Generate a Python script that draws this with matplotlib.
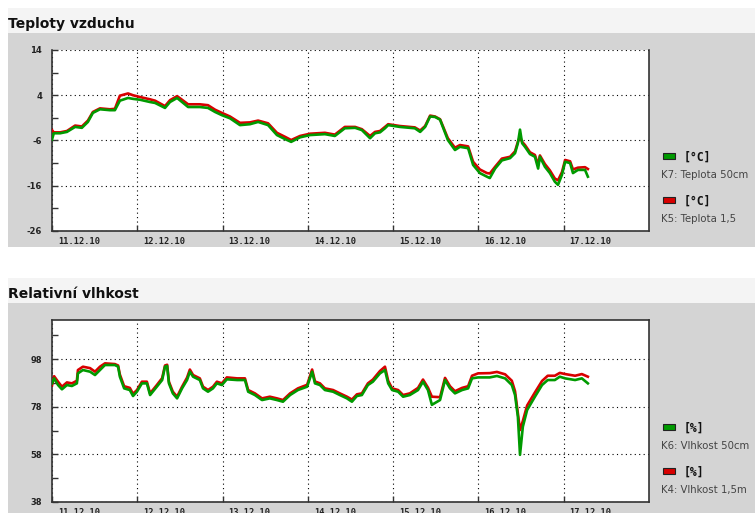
import matplotlib
matplotlib.use("Agg")
import matplotlib.pyplot as plt
import matplotlib.transforms as mtransforms
from matplotlib.patches import Rectangle

# hours since 11.12.10 00:00
temp_hours = [0, 0.5, 2.3, 4.2, 6.5, 8.4, 10.1, 11.5, 13.5, 16.3, 17.7, 19.1, 21.4, 22.8,
              24.8, 27.6, 29.0, 31.8, 33.2, 35.2, 36.6, 38.3, 41.6, 43.9, 45.9, 47.8,
              50.1, 52.9, 55.7, 58.0, 60.8, 63.3, 65.6, 67.3, 69.8, 72.6, 76.8, 79.6,
              82.4, 85.3, 87.2, 89.5, 90.9, 92.3, 93.7, 94.6, 97.9, 102.1, 103.6, 105.0,
              106.4, 107.8, 109.2, 111.4, 113.4, 114.8, 117.1, 118.5, 120.4, 122.4, 123.2,
              124.7, 126.6, 128.9, 130.3, 131.1, 131.7, 132.3, 133.1, 134.5, 135.9, 136.8,
              137.3, 138.7, 140.1, 141.5, 142.4, 143.5, 144.4, 145.8, 146.6, 148.0, 150.0,
              150.8]
temp_k7 = [-5.8, -4.4, -4.4, -4.1, -3.0, -3.2, -1.9, 0.1, 0.9, 0.7, 0.7, 2.8, 3.4, 3.2,
           3.0, 2.5, 2.3, 1.2, 2.5, 3.4, 2.5, 1.4, 1.4, 1.2, 0.3, -0.4,
           -1.1, -2.6, -2.4, -1.9, -2.6, -4.8, -5.7, -6.3, -5.3, -4.8, -4.6, -5.0,
           -3.3, -3.2, -3.7, -5.5, -4.4, -4.2, -3.3, -2.6, -3.0, -3.3, -4.1, -3.0,
           -0.7, -0.8, -1.4, -5.9, -8.1, -7.4, -7.7, -11.4, -13.2, -14.0, -14.3,
           -12.2, -10.4, -9.9, -8.8, -6.6, -3.6, -6.6, -7.4, -9.0, -9.6, -12.2,
           -9.6, -11.8, -13.2, -15.1, -15.8, -13.6, -10.7, -11.0, -13.2, -12.5, -12.5,
           -14.0]
temp_k5 = [-3.7, -4.2, -4.2, -3.9, -2.7, -2.9, -1.6, 0.3, 1.1, 0.9, 1.0, 3.9, 4.4, 4.0,
           3.6, 3.1, 2.8, 1.6, 2.9, 3.8, 3.0, 2.0, 2.0, 1.8, 0.8, 0.1,
           -0.7, -2.1, -2.0, -1.6, -2.2, -4.3, -5.2, -5.9, -5.0, -4.5, -4.3, -4.7,
           -3.0, -3.0, -3.5, -5.0, -4.1, -3.9, -3.0, -2.4, -2.8, -3.1, -3.8, -2.8,
           -0.5, -0.7, -1.3, -5.5, -7.6, -7.0, -7.3, -10.7, -12.4, -13.2, -13.3,
           -11.8, -10.0, -9.6, -8.4, -6.3, -5.2, -6.3, -7.0, -8.6, -9.2, -11.4,
           -9.3, -11.2, -12.6, -14.4, -14.8, -13.0, -10.3, -10.6, -12.4, -12.0, -11.9,
           -12.3]

hum_hours = [0, 0.6, 1.7, 2.8, 4.2, 5.6, 7.0, 7.3, 8.7, 10.7, 12.1, 13.5, 14.9, 17.7,
             18.6, 19.1, 20.3, 21.9, 22.8, 23.9, 25.3, 26.7, 27.6, 29.5, 31.0, 31.8,
             32.4, 32.9, 34.0, 35.2, 36.6, 38.0, 38.8, 39.7, 41.6, 42.5, 43.9, 45.3,
             46.4, 47.8, 49.2, 52.1, 54.3, 55.2, 57.1, 59.1, 61.3, 63.3, 65.0, 67.0,
             69.2, 71.8, 73.2, 74.0, 75.4, 76.8, 79.1, 81.0, 83.0, 84.4, 85.8, 87.2,
             88.9, 90.3, 92.3, 93.7, 94.6, 95.7, 97.4, 98.8, 100.7, 103.0, 104.4, 105.8,
             106.9, 109.2, 110.6, 112.0, 113.4, 115.4, 117.1, 118.2, 119.9, 123.2, 125.2,
             127.5, 129.4, 130.3, 131.1, 131.7, 132.5, 133.7, 135.9, 137.9, 139.5, 141.5,
             142.9, 144.4, 147.2, 149.1, 150.8]
hum_k6 = [87.8, 89.9, 87.1, 85.3, 87.1, 86.7, 87.8, 92.0, 93.4, 92.7, 91.3, 93.4, 95.5, 95.5,
          94.8, 90.6, 85.7, 85.0, 82.5, 84.3, 87.8, 87.8, 82.9, 86.4, 89.2, 94.8,
          95.1, 87.8, 83.6, 81.5, 85.7, 89.2, 92.7, 90.6, 89.2, 85.7, 84.3, 85.7,
          87.8, 87.1, 89.5, 89.2, 89.2, 84.3, 82.9, 80.8, 81.5, 80.8, 80.1, 82.9,
          85.0, 86.4, 92.7, 87.8, 87.1, 85.0, 84.3, 82.9, 81.5, 80.1, 82.5, 82.9,
          87.1, 88.5, 92.0, 93.4, 87.8, 85.0, 84.3, 82.2, 82.9, 85.0, 88.5, 85.0,
          78.8, 80.8, 89.2, 85.7, 83.6, 85.0, 85.7, 89.9, 90.3, 90.3, 90.9,
          89.9, 87.1, 82.9, 73.8, 57.8, 69.6, 76.6, 82.2, 87.1, 89.2, 89.2,
          90.6, 89.9, 89.2, 89.9, 87.8]
hum_k4 = [87.0, 90.8, 88.5, 86.4, 88.2, 87.8, 88.9, 93.4, 94.8, 94.2, 92.7, 94.8, 96.2, 95.9,
          95.3, 91.5, 86.6, 85.9, 83.4, 85.0, 88.5, 88.5, 83.6, 87.1, 90.0, 95.3,
          95.6, 88.5, 84.3, 82.2, 86.4, 90.2, 93.6, 91.3, 89.9, 86.4, 85.0, 86.4,
          88.5, 87.8, 90.3, 89.9, 89.9, 85.0, 83.6, 81.5, 82.2, 81.5, 80.8, 83.6,
          85.7, 87.2, 93.6, 88.6, 87.8, 85.7, 85.0, 83.6, 82.2, 81.0, 83.2, 83.6,
          87.8, 89.4, 93.0, 94.8, 88.9, 85.7, 85.0, 82.9, 83.6, 85.9, 89.4, 86.0,
          82.2, 82.0, 90.1, 86.6, 84.5, 85.9, 86.6, 91.0, 92.0, 92.1, 92.6,
          91.6, 88.9, 84.5, 75.2, 68.2, 72.0, 78.5, 84.0, 88.8, 91.0, 91.0,
          92.2, 91.7, 91.0, 91.7, 90.6]

day_ticks = [0, 24, 48, 72, 96, 120, 144]
day_labels = ["11.12.10", "12.12.10", "13.12.10", "14.12.10", "15.12.10", "16.12.10", "17.12.10"]

GREEN = "#009a00"
RED = "#d80000"
PANEL = "#d4d4d4"
BAND = "#f4f4f4"

W, H = 755, 513
fig = plt.figure(figsize=(W / 100, H / 100), dpi=100)
fig.patch.set_facecolor("white")


def px_rect(x0, y0, x1, y1, z=0, **kw):
    """Rectangle in figure pixel coords (origin top-left)."""
    fig.patches.append(Rectangle((x0 / W, 1 - y1 / H), (x1 - x0) / W, (y1 - y0) / H,
                                 transform=fig.transFigure, zorder=z, **kw))


def px_axes(left, top, right, bottom):
    ax = fig.add_axes([left / W, 1 - bottom / H, (right - left) / W, (bottom - top) / H])
    ax.set_zorder(2)
    return ax


def panel(ax, title, title_y, band, gray, ylim, yticks, yminor, top_spine):
    px_rect(8, band[0], W, band[1], z=-2, facecolor=BAND, linewidth=0)
    px_rect(8, gray[0], W, gray[1], z=-2, facecolor=PANEL, linewidth=0)
    fig.text(8 / W, 1 - title_y / H, title, fontsize=10, fontweight="bold",
             color="#111111", va="baseline", ha="left")

    ax.set_facecolor("white")
    ax.set_xlim(0, 168)
    ax.set_ylim(*ylim)
    ax.set_xticks(day_ticks)
    ax.set_xticklabels(day_labels, family="DejaVu Sans Mono", fontweight="bold",
                       fontsize=6.3, color="#222222")
    ax.set_yticks(yticks)
    ax.set_yticks(yminor, minor=True)
    ax.set_yticklabels([str(v) for v in yticks], fontsize=6, fontweight="bold",
                       color="#222222")
    ax.tick_params(axis="both", which="both", direction="in", length=4,
                   color="#333333", width=1)
    ax.tick_params(axis="x", pad=4)
    ax.tick_params(axis="y", pad=7)
    # dates sit just right of their midnight tick
    shift = mtransforms.ScaledTranslation(0.06, 0, fig.dpi_scale_trans)
    for lab in ax.get_xticklabels():
        lab.set_horizontalalignment("left")
        lab.set_transform(lab.get_transform() + shift)

    ax.grid(True, which="major", color="black", linestyle=(0, (1, 3)), linewidth=0.8)
    ax.set_axisbelow(True)
    for sp in ax.spines.values():
        sp.set_color("#333333")
        sp.set_linewidth(1.2)
    ax.spines["top"].set_visible(top_spine)


def legend(top, entries):
    y = top
    for color, unit, name in entries:
        px_rect(663, y - 3, 675, y + 3, z=1, facecolor=color, edgecolor="#222222",
                linewidth=0.8)
        fig.text(684 / W, 1 - (y + 1) / H, unit, family="DejaVu Sans Mono",
                 fontweight="bold", fontsize=8.3, color="#111111", va="center")
        fig.text(661 / W, 1 - (y + 19) / H, name, fontsize=7.3, color="#444444",
                 va="center")
        y += 44


# air temperature
ax1 = px_axes(52, 50, 649, 231)
panel(ax1, "Teploty vzduchu", 28, (8, 33), (33, 247), (-26, 14),
      [-26, -16, -6, 4, 14], [-21, -11, -1, 9], top_spine=False)
ax1.plot(temp_hours, temp_k5, color=RED, linewidth=1.9, zorder=3)
ax1.plot(temp_hours, temp_k7, color=GREEN, linewidth=1.9, zorder=4)
legend(156, [(GREEN, "[°C]", "K7: Teplota 50cm"), (RED, "[°C]", "K5: Teplota 1,5")])

# relative humidity
ax2 = px_axes(52, 320, 649, 502)
panel(ax2, "Relativní vlhkost", 298, (278, 303), (303, H), (38, 114.4),
      [38, 58, 78, 98], [48, 68, 88, 108], top_spine=True)
ax2.plot(hum_hours, hum_k4, color=RED, linewidth=1.9, zorder=3)
ax2.plot(hum_hours, hum_k6, color=GREEN, linewidth=1.9, zorder=4)
legend(427, [(GREEN, "[%]", "K6: Vlhkost 50cm"), (RED, "[%]", "K4: Vlhkost 1,5m")])

fig.savefig("out.png", dpi=100)
